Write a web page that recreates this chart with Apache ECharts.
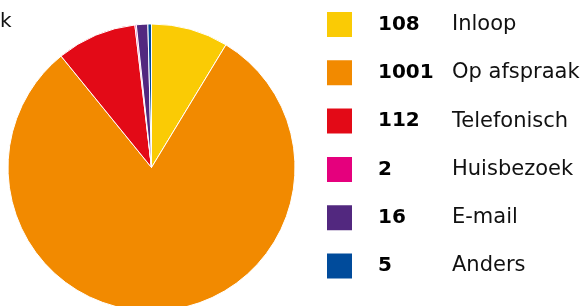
<!DOCTYPE html>
<html>
<head>
<meta charset="utf-8">
<script src="https://cdn.jsdelivr.net/npm/echarts@6/dist/echarts.min.js"></script>
<style>
  html, body { margin: 0; padding: 0; background: #fff; }
  #main { width: 583px; height: 306px; }
</style>
</head>
<body>
<div id="main"></div>
<script>
const names = ['Inloop', 'Op afspraak', 'Telefonisch', 'Huisbezoek', 'E-mail', 'Anders'];
const values = [108, 1001, 112, 2, 16, 5];
const colors = ['#FACB05', '#F28A00', '#E30A17', '#E5007D', '#52287F', '#004B9B'];

const chart = echarts.init(document.getElementById('main'));

const valueByName = {};
names.forEach((n, i) => { valueByName[n] = values[i]; });

const option = {
  animation: false,
  textStyle: { fontFamily: 'DejaVu Sans' },
  title: {
    text: 'k',
    left: 0,
    top: 12,
    padding: 0,
    textStyle: { fontFamily: 'DejaVu Sans', fontSize: 20, fontWeight: 'normal', color: '#111' }
  },
  legend: {
    orient: 'vertical',
    left: 325,
    top: 10,
    padding: 0,
    itemWidth: 27,
    itemHeight: 27,
    itemGap: 19.3,
    icon: 'rect',
    selectedMode: false,
    data: names,
    formatter: (name) => '{s|}{v|' + valueByName[name] + '}{n|' + name + '}',
    textStyle: {
      fontFamily: 'DejaVu Sans',
      fontSize: 20,
      lineHeight: 27,
      color: '#111',
      rich: {
        s: { width: 20, lineHeight: 27 },
        v: { width: 74, fontWeight: 'bold', fontSize: 20, lineHeight: 27, color: '#000', fontFamily: 'DejaVu Sans' },
        n: { fontSize: 21, lineHeight: 27, color: '#111', fontFamily: 'DejaVu Sans' }
      }
    }
  },
  series: [
    {
      type: 'pie',
      center: [151.5, 167.5],
      radius: [0, 143.5],
      startAngle: 90,
      clockwise: true,
      label: { show: false },
      labelLine: { show: false },
      emphasis: { disabled: true },
      itemStyle: { borderColor: '#fff', borderWidth: 1 },
      data: names.map((n, i) => ({ name: n, value: values[i], itemStyle: { color: colors[i] } }))
    }
  ]
};

chart.setOption(option);
</script>
</body>
</html>
